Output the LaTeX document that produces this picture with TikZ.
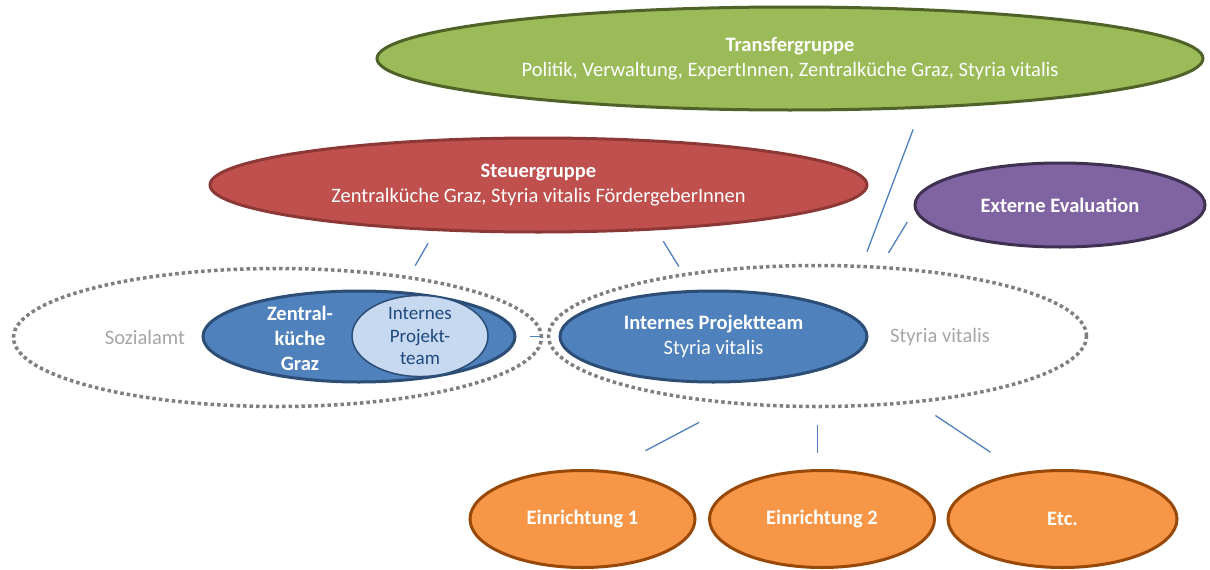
\documentclass[tikz,border=0pt]{standalone}
\usepackage{fontspec}
\setmainfont{Carlito}
\usepackage{tikz}
\usepackage{xcolor}
\usetikzlibrary{shapes.geometric}
\definecolor{tGreen}{HTML}{9BBB59}
\definecolor{tGreenDark}{HTML}{4F6228}
\definecolor{sRed}{HTML}{C0504D}
\definecolor{sRedDark}{HTML}{8C3836}
\definecolor{ePurple}{HTML}{8064A2}
\definecolor{ePurpleDark}{HTML}{3F3151}
\definecolor{pBlue}{HTML}{4F81BD}
\definecolor{pBlueDark}{HTML}{2C4D75}
\definecolor{pLight}{HTML}{C6D9F1}
\definecolor{pNavy}{HTML}{1F497D}
\definecolor{oOrange}{HTML}{F79646}
\definecolor{oOrangeDark}{HTML}{984807}
\definecolor{mGray}{HTML}{A6A6A6}
\definecolor{dotGray}{HTML}{7F7F7F}

\tikzset{
    bubble/.style={ellipse, inner sep=0pt, line width=3pt, text=white, align=center,
        font=\fontsize{20.5}{25}\selectfont},
    ring/.style={ellipse, inner sep=0pt, draw=dotGray, line width=3.5pt,
        dash pattern=on 3.5pt off 3pt},
    link/.style={draw=pBlue, line width=1.3pt},
    note/.style={text=mGray, font=\fontsize{20.5}{25}\selectfont},
}

\begin{document}
\begin{tikzpicture}[x=1pt, y=1pt]
    \useasboundingbox[fill=white] (0,0) rectangle (1210,-570);

    \node[bubble, fill=tGreen, draw=tGreenDark, minimum width=826pt, minimum height=103pt]
      (transfer) at (790,-58.5)
      {\textbf{Transfergruppe}\\Politik, Verwaltung, ExpertInnen, Zentralküche Graz, Styria vitalis};
    \node[bubble, fill=sRed, draw=sRedDark, minimum width=657pt, minimum height=94pt]
      (steuer) at (538.5,-185)
      {\textbf{Steuergruppe}\\Zentralküche Graz, Styria vitalis FördergeberInnen};
    \node[bubble, fill=ePurple, draw=ePurpleDark, minimum width=290pt, minimum height=84pt]
      (externe) at (1060,-205) {\textbf{Externe Evaluation}};

    \node[bubble, fill=pBlue, draw=pBlueDark, minimum width=312pt, minimum height=91pt]
      (zk) at (359,-336.5) {};
    \node[bubble, fill=pLight, draw=pBlueDark, line width=1.5pt, text=pNavy,
      minimum width=136pt, minimum height=68pt, font=\fontsize{19}{22.5}\selectfont]
      (zkTeam) at (420,-336) {Internes\\Projekt-\\team};
    \node[bubble, font=\bfseries\fontsize{20.5}{25}\selectfont]
      (zkLabel) at (300,-338) {Zentral-\\küche\\Graz};
    \node[bubble, fill=pBlue, draw=pBlueDark, minimum width=307pt, minimum height=91pt]
      (ipt) at (713.5,-336.5) {\textbf{Internes Projektteam}\\Styria vitalis};

    \node[ring, minimum width=528pt, minimum height=138pt] (sozial) at (277.5,-337.5) {};
    \node[ring, minimum width=538pt, minimum height=141pt] (styria) at (817.5,-336) {};
    \node[note] (sozialText) at (145,-337) {Sozialamt};
    \node[note] (styriaText) at (940,-337) {Styria vitalis};

    \node[bubble, fill=oOrange, draw=oOrangeDark, minimum width=225pt, minimum height=97pt]
      (einr1) at (582.5,-519) {\textbf{Einrichtung 1}};
    \node[bubble, fill=oOrange, draw=oOrangeDark, minimum width=225pt, minimum height=97pt]
      (einr2) at (822,-519) {\textbf{Einrichtung 2}};
    \node[bubble, fill=oOrange, draw=oOrangeDark, minimum width=229pt, minimum height=97pt]
      (etc) at (1062.5,-519) {\textbf{Etc.}};

    \draw[link, shorten <=14pt, shorten >=12pt] (steuer.204) -- (sozial.25);
    \draw[link, shorten <=13pt, shorten >=8pt] (steuer.-21) -- (styria.155);
    \draw[link, shorten <=22pt, shorten >=14pt] (transfer.-21) -- (styria.58);
    \draw[link, shorten <=14pt, shorten >=15pt] (externe.182) -- (styria.48);
    \draw[link, shorten <=13pt, shorten >=18pt] (zk.east) -- (ipt.west);
    \draw[link, shorten <=38pt, shorten >=42pt] (styria.219) -- (einr1.62);
    \draw[link, shorten <=17pt, shorten >=16pt] (styria.south) -- (styria.south |- einr2.north);
    \draw[link, shorten <=22pt, shorten >=36pt] (styria.-34) -- (etc.132);
\end{tikzpicture}
\end{document}
